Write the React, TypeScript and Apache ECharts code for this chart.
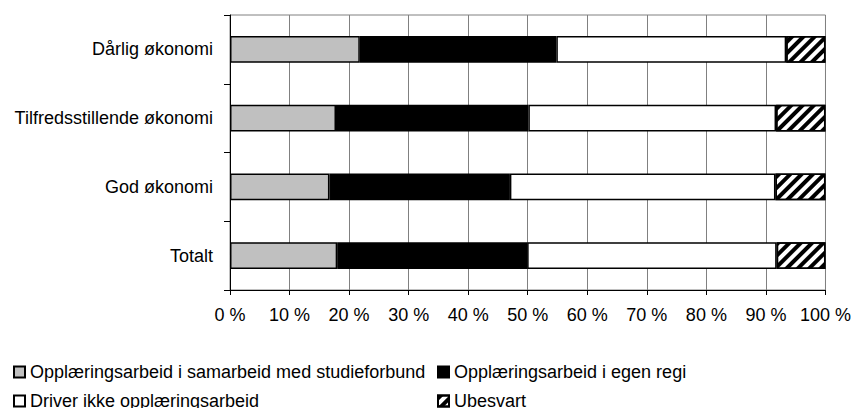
import React, { useEffect, useRef } from "react";
import * as echarts from "echarts";

const categories = ["Dårlig økonomi", "Tilfredsstillende økonomi", "God økonomi", "Totalt"];
const seriesNames = [
  "Opplæringsarbeid i samarbeid med studieforbund",
  "Opplæringsarbeid i egen regi",
  "Driver ikke opplæringsarbeid",
  "Ubesvart",
];
const samarbeid = [21.8, 17.8, 16.7, 18.0];
const egenRegi = [33.0, 32.3, 30.3, 31.9];
const driverIkke = [38.6, 41.6, 44.6, 41.9];
const ubesvart = [6.6, 8.3, 8.4, 8.2];

const FONT = "'Liberation Sans', Arial, sans-serif";

export default function App() {
  const ref = useRef<HTMLDivElement>(null);
  useEffect(() => {
    if (!ref.current) return;
    const chart = echarts.init(ref.current, undefined, { renderer: "svg" });
    const border = { borderColor: "#000", borderWidth: 1.5 };
    const mk = (name: string, data: number[], itemStyle: any) => ({
      name,
      type: "bar",
      stack: "total",
      data,
      barCategoryGap: "61%",
      itemStyle: { ...border, ...itemStyle },
      emphasis: { disabled: true },
    });
    const legendCommon = {
      padding: 0,
      itemWidth: 11,
      itemHeight: 11,
      icon: "rect",
      selectedMode: false,
      textStyle: { fontSize: 18, color: "#000", fontFamily: FONT },
    };
    chart.setOption({
      animation: false,
      textStyle: { fontFamily: FONT },
      grid: {
        left: 230,
        right: 26,
        top: 15,
        bottom: 118,
        show: true,
        borderColor: "#808080",
        borderWidth: 1,
      },
      xAxis: {
        type: "value",
        min: 0,
        max: 100,
        interval: 10,
        axisLine: { show: true, lineStyle: { color: "#000", width: 1 } },
        axisTick: { show: true, length: 5, lineStyle: { color: "#000" } },
        axisLabel: {
          formatter: "{value} %",
          fontSize: 18,
          color: "#000",
          fontFamily: FONT,
          margin: 16,
        },
        splitLine: { show: true, lineStyle: { color: "#808080", width: 1 } },
      },
      yAxis: {
        type: "category",
        data: categories,
        inverse: true,
        axisLine: { show: true, lineStyle: { color: "#000", width: 1 } },
        axisTick: { show: true, length: 6, lineStyle: { color: "#000" } },
        axisLabel: { fontSize: 18, color: "#000", fontFamily: FONT, margin: 17 },
        splitLine: { show: false },
      },
      legend: [
        { ...legendCommon, data: [seriesNames[0]], left: 13, top: 363 },
        { ...legendCommon, data: [seriesNames[1]], left: 437, top: 363 },
        { ...legendCommon, data: [seriesNames[2]], left: 13, top: 392 },
        { ...legendCommon, data: [seriesNames[3]], left: 437, top: 392 },
      ],
      series: [
        mk(seriesNames[0], samarbeid, { color: "#c0c0c0" }),
        mk(seriesNames[1], egenRegi, { color: "#000000" }),
        mk(seriesNames[2], driverIkke, { color: "#ffffff" }),
        mk(seriesNames[3], ubesvart, {
          color: "#ffffff",
          decal: {
            symbol: "rect",
            symbolSize: 1,
            dashArrayX: [1, 0],
            dashArrayY: [4, 4],
            rotation: -Math.PI / 4,
            color: "#000",
            backgroundColor: "#fff",
          },
        }),
      ],
    });
    return () => chart.dispose();
  }, []);
  return (
    <div
      ref={ref}
      style={{ position: "fixed", left: 0, top: 0, width: 854, height: 408, background: "#fff" }}
    />
  );
}
